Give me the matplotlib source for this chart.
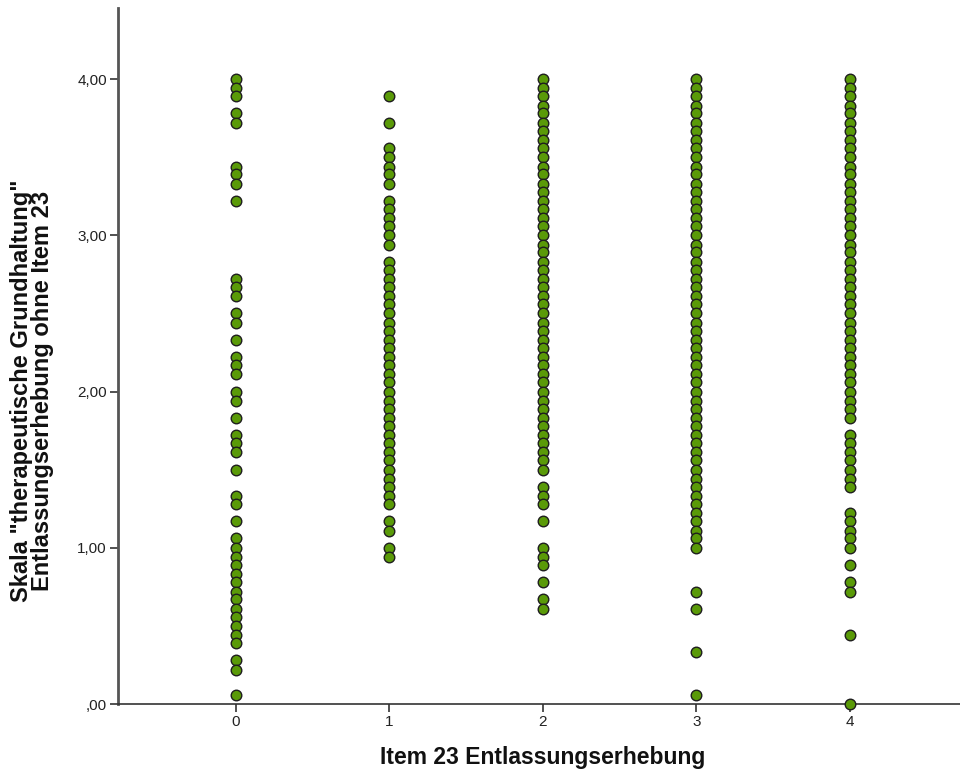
import matplotlib
matplotlib.use("Agg")
import matplotlib.pyplot as plt

# Item 23 response categories (x) and scale values (y) per category
categories = [0, 1, 2, 3, 4]

values_item0 = [4.00, 3.94, 3.89, 3.78, 3.72, 3.44, 3.39, 3.33, 3.22, 2.72, 2.67, 2.61,
                2.50, 2.44, 2.33, 2.22, 2.17, 2.11, 2.00, 1.94, 1.83, 1.72, 1.67, 1.61,
                1.50, 1.33, 1.28, 1.17, 1.06, 1.00, 0.94, 0.89, 0.83, 0.78, 0.72, 0.67,
                0.61, 0.56, 0.50, 0.44, 0.39, 0.28, 0.22, 0.06]

values_item1 = [3.89, 3.72, 3.56, 3.50, 3.44, 3.39, 3.33, 3.22, 3.17, 3.11, 3.06, 3.00,
                2.94, 2.83, 2.78, 2.72, 2.67, 2.61, 2.56, 2.50, 2.44, 2.39, 2.33, 2.28,
                2.22, 2.17, 2.11, 2.06, 2.00, 1.94, 1.89, 1.83, 1.78, 1.72, 1.67, 1.61,
                1.56, 1.50, 1.44, 1.39, 1.33, 1.28, 1.17, 1.11, 1.00, 0.94]

values_item2 = [4.00, 3.94, 3.89, 3.83, 3.78, 3.72, 3.67, 3.61, 3.56, 3.50, 3.44, 3.39,
                3.33, 3.28, 3.22, 3.17, 3.11, 3.06, 3.00, 2.94, 2.89, 2.83, 2.78, 2.72,
                2.67, 2.61, 2.56, 2.50, 2.44, 2.39, 2.33, 2.28, 2.22, 2.17, 2.11, 2.06,
                2.00, 1.94, 1.89, 1.83, 1.78, 1.72, 1.67, 1.61, 1.56, 1.50, 1.39, 1.33,
                1.28, 1.17, 1.00, 0.94, 0.89, 0.78, 0.67, 0.61]

values_item3 = [4.00, 3.94, 3.89, 3.83, 3.78, 3.72, 3.67, 3.61, 3.56, 3.50, 3.44, 3.39,
                3.33, 3.28, 3.22, 3.17, 3.11, 3.06, 3.00, 2.94, 2.89, 2.83, 2.78, 2.72,
                2.67, 2.61, 2.56, 2.50, 2.44, 2.39, 2.33, 2.28, 2.22, 2.17, 2.11, 2.06,
                2.00, 1.94, 1.89, 1.83, 1.78, 1.72, 1.67, 1.61, 1.56, 1.50, 1.44, 1.39,
                1.33, 1.28, 1.22, 1.17, 1.11, 1.06, 1.00, 0.72, 0.61, 0.33, 0.06]

values_item4 = [4.00, 3.94, 3.89, 3.83, 3.78, 3.72, 3.67, 3.61, 3.56, 3.50, 3.44, 3.39,
                3.33, 3.28, 3.22, 3.17, 3.11, 3.06, 3.00, 2.94, 2.89, 2.83, 2.78, 2.72,
                2.67, 2.61, 2.56, 2.50, 2.44, 2.39, 2.33, 2.28, 2.22, 2.17, 2.11, 2.06,
                2.00, 1.94, 1.89, 1.83, 1.72, 1.67, 1.61, 1.56, 1.50, 1.44, 1.39, 1.22,
                1.17, 1.11, 1.06, 1.00, 0.89, 0.78, 0.72, 0.44, 0.00]

series = [values_item0, values_item1, values_item2, values_item3, values_item4]

y_ticks = [0, 1, 2, 3, 4]
y_tick_labels = [",00", "1,00", "2,00", "3,00", "4,00"]
x_tick_labels = ["0", "1", "2", "3", "4"]

x_label = "Item 23 Entlassungserhebung"
y_label = "Skala \"therapeutische Grundhaltung\"\nEntlassungserhebung ohne Item 23"

plt.rcParams["font.family"] = ["Liberation Sans", "DejaVu Sans"]

fig = plt.figure(figsize=(9.6, 7.8), dpi=100)
ax = fig.add_axes([118 / 960, 76 / 780, 842 / 960, 696 / 780])

for cat, vals in zip(categories, series):
    ax.plot([cat] * len(vals), vals, linestyle="none", marker="o",
            markersize=7.6, markerfacecolor="#5a9a08", markeredgecolor="#1e1e1e",
            markeredgewidth=1.0, clip_on=False, zorder=3)

ax.set_xlim(-0.77, 4.72)
ax.set_ylim(0, 4.455)

ax.set_xticks(categories)
ax.set_xticklabels(x_tick_labels, fontsize=11)
ax.set_yticks(y_ticks)
ax.set_yticklabels(y_tick_labels, fontsize=11)

for s in ["top", "right"]:
    ax.spines[s].set_visible(False)
ax.spines["left"].set_color("#555555")
ax.spines["left"].set_linewidth(2.0)
ax.spines["bottom"].set_color("#333333")
ax.spines["bottom"].set_linewidth(1.2)

ax.tick_params(axis="both", direction="out", length=6, width=1.2, color="#333333",
               labelcolor="#222222", pad=2)

ax.set_xlabel(x_label, fontsize=16.5, fontweight="bold", color="#111111")
ax.set_ylabel(y_label, fontsize=17, fontweight="bold", color="#111111",
              linespacing=0.88)
# centre labels on the 0..4 data ranges
ax.xaxis.set_label_coords((543 - 118) / 842, -0.06)
ax.yaxis.set_label_coords((54 - 118) / 842, (704 - 391) / 696)

fig.savefig("out.png", dpi=100)
